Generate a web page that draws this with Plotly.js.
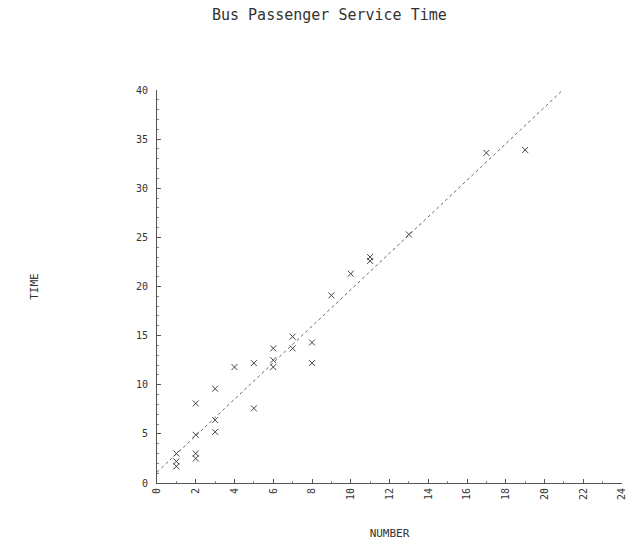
<!DOCTYPE html>
<html>
<head>
<meta charset="utf-8">
<script src="https://cdn.plot.ly/plotly-3.0.1.min.js"></script>
<style>html,body{margin:0;padding:0;background:#fff;}#chart{width:631px;height:543px;}</style>
</head>
<body>
<div id="chart"></div>
<script>
// Observed data: number of passengers vs service time
var numberVals = [1, 1, 1, 2, 2, 2, 2, 3, 3, 3, 4, 5, 5, 6, 6, 6, 7, 7, 8, 8, 9, 10, 11, 11, 13, 17, 19];
var timeVals   = [3.0, 2.2, 1.7, 3.0, 2.5, 4.9, 8.1, 6.4, 5.2, 9.6, 11.8, 12.2, 7.6, 13.7, 12.5, 11.8, 14.9, 13.7, 14.3, 12.2, 19.1, 21.3, 22.6, 23.0, 25.3, 33.6, 33.9];
// Fitted line endpoints
var fitX = [0, 21];
var fitY = [1.1, 40.1];
var xTicks = [0, 2, 4, 6, 8, 10, 12, 14, 16, 18, 20, 22, 24];
var yTicks = [0, 5, 10, 15, 20, 25, 30, 35, 40];

var font = "DejaVu Sans Mono, monospace";
var ink = "#333";

var traces = [
  {x: fitX, y: fitY, mode: "lines", type: "scatter",
   line: {color: "#666", width: 1, dash: "dot"}, hoverinfo: "skip", showlegend: false},
  {x: numberVals, y: timeVals, mode: "markers", type: "scatter",
   marker: {symbol: "x-thin-open", size: 6, line: {color: "#444", width: 1}, color: "#444"},
   showlegend: false}
];

var layout = {
  width: 631, height: 543,
  paper_bgcolor: "#fff", plot_bgcolor: "#fff",
  margin: {l: 157, r: 9, t: 90, b: 60, pad: 0},
  showlegend: false,
  title: {text: "Bus Passenger Service Time", x: 0.522, xanchor: "center", y: 0.972, yanchor: "middle",
          font: {family: font, size: 15, color: ink}},
  xaxis: {
    range: [0, 24], tickvals: xTicks, ticktext: xTicks.map(String), tickangle: -90,
    showgrid: false, zeroline: false, showline: true, linecolor: "#555", linewidth: 1,
    ticks: "inside", ticklen: 4, tickcolor: "#555",
    minor: {dtick: 1, ticks: "inside", ticklen: 2, tickcolor: "#888"},
    tickfont: {family: font, size: 10, color: ink},
    title: {text: "NUMBER", font: {family: font, size: 11, color: ink}, standoff: 30},
    automargin: false
  },
  yaxis: {
    range: [0, 40], tickvals: yTicks, ticktext: yTicks.map(String),
    showgrid: false, zeroline: false, showline: true, linecolor: "#555", linewidth: 1,
    ticks: "inside", ticklen: 4, tickcolor: "#555",
    minor: {dtick: 1, ticks: "inside", ticklen: 2, tickcolor: "#888"},
    tickfont: {family: font, size: 10, color: ink}, ticklabelstandoff: 6,
    title: {text: "TIME", font: {family: font, size: 11, color: ink}, standoff: 95},
    automargin: false
  }
};

Plotly.newPlot("chart", traces, layout, {displayModeBar: false, staticPlot: true});
</script>
</body>
</html>
